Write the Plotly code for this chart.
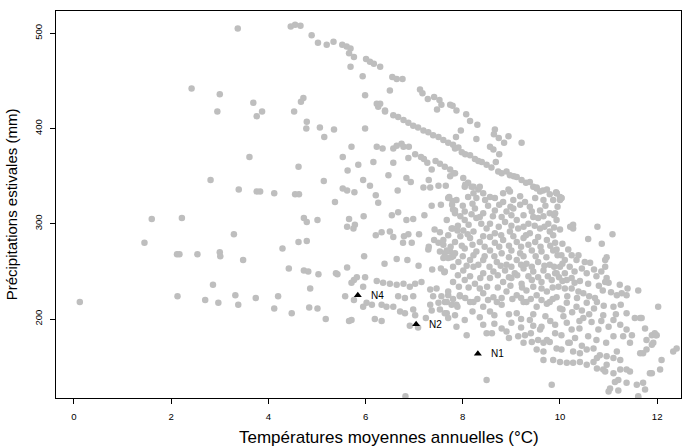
import plotly.graph_objects as go

# ---- data: (température moyenne annuelle °C, précipitations estivales mm) ----
cold = [(0.12,218),(1.45,280),(1.60,305),(2.22,306),(2.12,268),(2.17,268),(2.54,268),(3.00,270),(3.01,266),
        (3.29,289),(2.86,236),(2.13,224),(2.70,220),(2.97,217),(3.32,225),(3.38,215),(3.37,505),(2.42,442),
        (3.00,436),(2.95,418),(2.81,346),(3.39,336),(3.48,262),(3.74,222),(3.61,370),(3.69,427),(3.87,418),
        (3.76,413),(3.76,334),(3.83,334),(4.12,332)]

upper = [(4.46,507),(4.55,509),(4.66,508),(4.89,498),(5.02,490),(5.20,488),(5.34,491),(5.52,488),(5.61,486),
         (5.69,484),(5.66,479),(5.76,475),(5.69,465),(6.01,473),(6.09,470),(6.17,468),(6.30,465),(5.94,455),
         (6.55,454),(6.64,452),(6.76,452),(6.50,440),(5.99,435),(7.12,441),(7.17,437),(7.28,431),(7.41,433),
         (7.52,430),(7.47,420),(7.56,425),(7.74,425),(7.87,419),(7.79,424),(8.07,415),(8.15,408),(8.30,404),
         (7.96,398),(7.86,391),(8.28,389),(8.66,399),(8.64,394),(8.74,390),(8.85,385),(8.94,392),(9.21,385),
         (8.56,381),(8.63,378),(8.75,373),(8.68,365),(4.72,432),(4.67,428),(4.53,418),(4.79,407),(4.78,400),
         (5.06,401),(5.15,391),(5.35,399),(5.99,400),(6.26,423),(6.23,426),(6.30,426),(6.40,419)]

band_mid = [(6.40,418),(6.57,414),(6.67,412),(6.78,409),(6.88,406),(6.98,403),(7.08,401),(7.19,398),(7.29,396),
            (7.39,393),(7.50,391),(7.60,388),(7.70,385),(7.80,383),(7.91,380),(7.84,379),(7.98,375),(8.05,373),
            (8.15,372),(8.25,368),(8.32,366),(8.39,365),(8.49,362),(8.59,359),(8.73,355),(8.80,353),(8.90,355),
            (8.97,351),(9.05,350),(9.11,349),(9.21,346),(9.30,343),(9.38,344),(9.45,339),(9.52,338),(9.59,334),
            (9.65,335),(9.73,336),(9.79,331),(9.92,333),(10.00,328),(9.93,332),(10.03,327),(10.00,325)]

band_low = [(5.71,381),(6.23,381),(6.35,379),(6.57,379),(6.64,382),(6.74,384),(6.78,381),(6.89,381),(6.88,369),
            (7.02,373),(7.14,370),(7.20,368),(7.27,364),(7.44,366),(7.53,363),(7.63,360),(7.74,357),(7.84,353),
            (7.81,353),(7.36,357),(5.53,370),(5.85,362),(6.16,365),(5.63,356),(6.57,364),(4.62,360),(6.47,351),
            (6.84,348),(6.93,344),(6.66,335),(5.95,346),(6.09,340),(6.21,330),(7.19,338),(7.33,338),(7.50,340),
            (7.65,340),(7.30,346),(7.74,350),(7.72,328),(5.14,345),(4.55,331),(4.63,331),(5.53,337),(5.62,335),
            (5.77,333),(8.01,348),(8.11,343),(8.22,339),(8.32,336),(8.42,332),(8.56,328),(8.04,339),(8.22,332),
            (8.94,336),(8.83,332),(9.18,329),(8.05,341),(8.18,339)]

west_mid = [(6.26,322),(5.37,323),(6.54,309),(6.67,312),(6.84,304),(6.98,305),(7.21,309),(7.36,319),(7.55,320),
            (7.79,324),(7.80,315),(7.84,311),(4.73,306),(4.79,302),(5.01,304),(5.66,305),(5.62,297),(5.78,299),
            (5.75,295),(5.96,308),(4.29,274),(4.62,281),(4.79,282),(4.42,253),(4.73,251),(4.82,250),(5.03,247),
            (5.39,248),(5.42,247),(5.62,254),(5.97,266),(6.21,288),(6.33,291),(6.50,292),(6.57,286),(6.79,287),
            (6.88,289),(6.95,280),(6.77,280),(7.10,289),(6.39,258),(6.64,263),(6.86,262),(7.09,256),(7.37,252),
            (7.55,253),(7.62,249),(7.42,294),(7.53,291),(7.41,283),(7.50,280),(7.60,278),(7.30,276),(7.29,273),
            (7.53,271),(7.63,269),(7.74,271),(7.70,264),(7.80,266),(7.79,295),(7.89,293),(5.76,241),(5.82,244),
            (5.99,244),(5.95,234),(5.71,238),(5.58,224),(5.76,220),(4.20,224),(4.12,211),(4.48,206),(4.84,212),
            (5.01,211),(5.18,200),(4.86,232),(5.66,198),(5.71,199),(6.19,200),(6.33,198),(5.95,213),(6.02,217),
            (6.13,215),(6.23,240),(6.36,238),(6.50,237),(6.64,236),(6.78,237),(6.91,234),(7.02,237),(7.15,239),
            (6.67,224),(6.81,222),(6.98,224),(6.33,215),(6.43,213),(6.57,213),(6.71,208),(6.81,206),(6.98,210),
            (7.02,204),(6.91,193),(7.08,191),(7.33,231),(7.46,232),(7.39,224),(7.56,224),(7.70,225),(7.33,215),
            (7.50,217),(7.63,218),(7.77,215),(7.36,209),(7.53,210),(7.67,206),(7.70,201),(7.87,192),(7.89,213),
            (7.94,224),(7.24,201),(6.82,119)]

core = [(8.35,339),(8.97,334),(9.52,337),
        (7.70,327),(7.87,325),(8.11,328),(8.28,327),(8.46,325),(8.66,327),(8.83,323),(9.04,325),(9.28,323),(9.49,327),(9.66,325),(9.86,325),
        (7.84,314),(8.04,313),(8.25,316),(8.42,311),(8.66,314),(8.90,313),(9.04,316),(9.25,309),(9.42,313),(9.59,314),(9.79,311),
        (7.67,304),(8.04,304),(8.28,306),(8.56,300),(8.87,302),(9.11,304),(9.35,300),(9.55,306),(9.76,300),(9.93,304),
        (7.77,295),(8.01,293),(8.22,292),(8.49,295),(8.66,290),(8.97,292),(9.14,295),(9.38,290),(9.59,295),(9.79,292),
        (7.60,283),(7.84,281),(8.15,285),(8.35,281),(8.66,280),(8.83,283),(9.11,281),(9.25,285),(9.49,281),(9.73,283),(9.90,280),
        (7.67,272),(7.84,269),(8.04,274),(8.28,271),(8.56,272),(8.80,269),(9.00,272),(9.18,269),(9.42,272),(9.62,271),(9.86,272),
        (7.60,264),(7.91,260),(8.15,262),(8.42,262),(8.70,260),(8.90,257),(9.11,262),(9.31,258),(9.55,260),(9.79,257),
        (7.63,250),(8.01,251),(8.22,255),(8.42,248),(8.63,250),(8.87,251),(9.07,248),(9.25,253),(9.45,250),(9.66,251),(9.90,248),
        (7.80,239),(8.04,241),(8.25,237),(8.56,243),(8.83,239),(9.00,243),(9.21,237),(9.42,241),(9.62,239),(9.83,241),
        (7.70,229),(7.94,225),(8.42,227),(8.63,223),(8.90,229),(9.11,225),(9.31,230),(9.52,225),(9.73,229),(9.93,223),
        (8.22,218),(8.70,218),(9.25,218),(9.73,216)]

core_fill = [(7.78,320),(8.00,319),(8.20,321),(8.52,319),(8.75,320),(8.98,318),(9.18,320),(9.38,318),(9.70,319),(9.95,318),
             (7.95,308),(8.18,310),(8.35,307),(8.62,308),(8.80,307),(9.00,309),(9.45,307),(9.66,308),(9.88,309),
             (7.90,298),(8.12,299),(8.38,300),(8.74,297),(9.00,298),(9.25,297),(9.48,298),(9.68,297),(9.88,296),
             (7.70,288),(7.95,287),(8.10,289),(8.42,287),(8.56,286),(8.79,288),(9.04,287),(9.30,288),(9.55,286),(9.86,288),
             (7.75,276),(7.98,277),(8.20,278),(8.45,276),(8.75,276),(8.95,277),(9.20,276),(9.35,278),(9.60,276),(9.80,277),
             (7.76,265),(8.00,266),(8.22,267),(8.45,266),(8.65,266),(8.95,265),(9.25,266),(9.50,266),(9.72,265),(9.95,267),
             (7.80,255),(8.08,256),(8.32,257),(8.55,255),(8.78,256),(9.00,255),(9.20,257),(9.42,255),(9.68,256),(9.88,255),
             (7.90,246),(8.15,245),(8.36,243),(8.72,246),(8.95,244),(9.12,246),(9.35,245),(9.55,244),(9.75,245),(9.98,244),
             (7.92,234),(8.12,233),(8.35,232),(8.50,234),(8.72,233),(8.98,235),(9.22,233),(9.45,234),(9.62,232),(9.85,233),
             (7.80,221),(8.05,222),(8.30,221),(8.52,220),(8.80,222),(9.02,221),(9.20,222),(9.40,221),(9.62,220),(9.85,221)]

east = [(9.93,332),(10.03,327),(9.90,311),(10.00,294),(10.21,297),(10.27,299),(10.27,295),(10.77,297),(11.08,289),
        (10.58,284),(10.86,279),(10.05,279),(9.93,273),(10.03,267),(10.17,273),(10.24,267),(10.38,267),(10.34,262),
        (10.10,262),(10.96,265),(10.93,262),(10.51,260),(10.62,259),(10.93,255),(10.00,255),(9.93,248),(10.10,248),
        (10.75,245),(10.96,243),(11.00,238),(10.93,239),(10.14,241),(10.24,243),(10.41,240),(11.23,236),(11.39,232),
        (11.61,230),(11.37,225),(9.97,234),(10.10,232),(10.24,232),(10.38,229),(10.48,227),(10.72,222),(11.17,225),
        (11.27,227)]

east_fill = [(10.05,258),(10.20,255),(10.45,253),(10.70,252),(10.30,250),(10.55,248),(10.85,250),(10.05,240),
             (10.30,238),(10.58,237),(10.80,235),(10.15,224),(10.35,222),(10.60,224),(10.88,230),(11.05,228),
             (10.05,210),(10.25,207),(10.45,209),(10.70,211),(10.90,214),(11.25,215),(10.40,198),(10.60,205),
             (10.85,198),(11.15,205)]

south = [(7.67,218),(7.87,215),(8.15,218),(8.42,213),(8.56,208),(8.80,215),(9.11,206),(9.31,218),(9.52,213),
         (9.79,218),(10.00,211),(10.14,217),(10.34,213),(10.55,217),(10.76,218),(11.10,213),(11.37,206),(11.65,201),
         (12.02,213),(7.63,206),(7.84,204),(8.04,199),(8.42,194),(8.49,185),(8.08,183),(8.80,190),(8.90,187),
         (9.00,196),(9.14,182),(9.28,183),(9.38,199),(9.59,189),(9.73,178),(9.62,192),(9.90,194),(10.07,203),
         (10.14,196),(9.90,185),(10.03,183),(10.24,189),(10.31,180),(10.17,175),(10.48,201),(10.65,197),(10.58,182),
         (10.79,189),(10.89,204),(11.00,192),(11.10,199),(11.24,194),(11.37,189),(11.30,182),(11.54,201),(11.68,201),
         (11.78,178),(11.92,175),(11.99,183),(11.48,183),(9.25,175),(9.42,176),(9.55,178),(9.66,175),(9.79,176),
         (9.93,169),(10.03,168),(9.52,168),(9.66,166),(10.27,166),(10.41,164),(10.55,168),(10.69,169),(10.76,159),
         (10.82,162),(10.96,161),(11.10,159),(11.24,157),(11.17,166),(10.96,152),(10.89,147),(10.76,148),(10.55,152),
         (10.41,155),(10.69,155),(10.27,154),(10.14,154),(10.00,155),(9.86,157),(9.66,157),(11.44,175),(11.65,164),
         (11.78,168),(11.37,147),(11.44,145),(11.24,147),(11.10,143),(10.93,145),(11.13,134),(11.20,136),(11.37,133),
         (11.58,131),(11.71,133),(11.75,126),(11.03,127),(11.00,124),(11.20,125),(11.61,119),(8.49,136),(9.83,131),
         (12.40,169),(12.33,166),(12.09,157),(12.06,147),(11.85,143),(11.95,185),(11.75,190),(11.89,183),(11.97,183),
         (11.89,173),(11.71,164),(11.89,143),(11.61,117)]

south_fill = [(8.20,208),(8.35,202),(8.65,204),(8.95,205),(9.20,200),(9.45,205),(9.70,203),(9.80,198),(8.65,195),
              (8.60,185),(8.95,180),(9.20,191),(9.45,193),(9.40,185),(10.20,175),(10.40,190),(10.75,178),(10.95,175),
              (11.10,182),(10.45,172)]

# stations (triangles)
station_names = ["N1", "N2", "N4"]
station_temp = [8.31, 7.04, 5.84]
station_precip = [163.5, 194.6, 225.1]

x_ticks = [0, 2, 4, 6, 8, 10, 12]
y_ticks = [200, 300, 400, 500]

groups = [cold, upper, band_mid, band_low, west_mid, core, core_fill, east, east_fill, south, south_fill]
temp = [p[0] for g in groups for p in g]
precip = [p[1] for g in groups for p in g]

fig = go.Figure()
fig.add_trace(go.Scatter(x=temp, y=precip, mode="markers",
                         marker=dict(color="#BEBEBE", size=6.5, line=dict(width=0)),
                         hoverinfo="skip"))
fig.add_trace(go.Scatter(x=station_temp, y=station_precip, mode="markers",
                         marker=dict(color="black", size=7, symbol="triangle-up", line=dict(width=0)),
                         hoverinfo="skip"))
for name, tx, ty in zip(station_names, station_temp, station_precip):
    fig.add_annotation(x=tx, y=ty, text=name, showarrow=False, xanchor="left", yanchor="middle",
                       xshift=11, font=dict(size=10, color="black"))

# x-axis title (placed as in the reference)
fig.add_annotation(xref="paper", yref="paper", x=0.532, y=-0.1008, xanchor="center", yanchor="middle",
                   text="Températures moyennes annuelles (°C)", showarrow=False,
                   font=dict(size=17, color="black"))

axis_common = dict(showline=True, mirror=True, linecolor="black", linewidth=1, ticks="outside",
                   ticklen=5, tickcolor="black", tickwidth=1, showgrid=False, zeroline=False,
                   tickfont=dict(size=9.6, color="black"))

fig.update_xaxes(range=[-0.37, 12.49], tickvals=x_ticks, ticktext=[str(v) for v in x_ticks],
                 ticklabelstandoff=4, **axis_common)
fig.update_yaxes(range=[117.1, 523.4], tickvals=y_ticks, ticktext=[str(v) for v in y_ticks],
                 tickangle=-90, ticklabelstandoff=4,
                 title=dict(text="Précipitations estivales (mm)", font=dict(size=15), standoff=11),
                 **axis_common)

fig.update_layout(width=682, height=448, margin=dict(l=56, r=1, t=11, b=50),
                  plot_bgcolor="white", paper_bgcolor="white", showlegend=False,
                  font=dict(family="Liberation Sans, Arial, sans-serif", color="black"))

fig.write_html("out.html")
